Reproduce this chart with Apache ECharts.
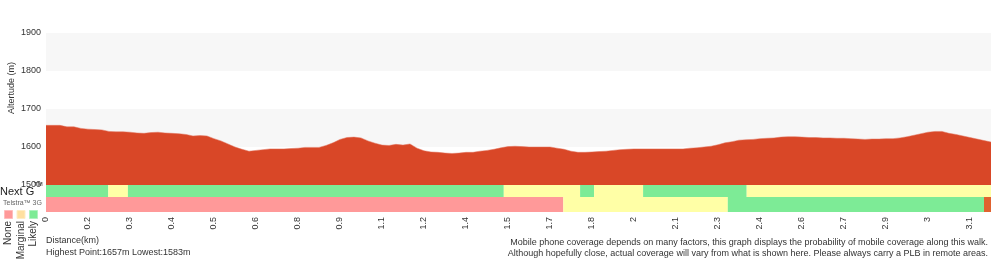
<!DOCTYPE html>
<html>
<head>
<meta charset="utf-8">
<script src="https://cdn.jsdelivr.net/npm/echarts@6/dist/echarts.min.js"></script>
<style>
html,body{margin:0;padding:0;background:#fff;}
#chart{width:1000px;height:260px;}
</style>
</head>
<body>
<div id="chart"></div>
<script>
// Elevation (m) at evenly spaced sample points along the walk
const elevation = [
1657,1657,1657,1653,1653,1649,1647,1646,1645,1641,
1640,1640,1639,1637,1636,1638,1639,1637,1636,1635,
1633,1629,1630,1629,1622,1616,1608,1600,1594,1589,
1591,1593,1595,1595,1595,1596,1597,1599,1599,1599,
1604,1611,1620,1625,1626,1624,1616,1610,1605,1604,
1607,1605,1608,1597,1590,1587,1586,1584,1583,1584,
1586,1586,1589,1591,1594,1598,1601,1602,1601,1600,
1600,1600,1600,1597,1594,1589,1586,1586,1587,1588,
1589,1591,1593,1594,1595,1595,1595,1595,1595,1595,
1595,1595,1597,1598,1600,1602,1606,1611,1614,1618,
1619,1620,1622,1623,1624,1626,1627,1627,1626,1625,
1625,1624,1624,1623,1623,1622,1621,1620,1621,1621,
1622,1622,1624,1627,1631,1635,1639,1641,1641,1636,
1633,1629,1625,1621,1617,1613
];
// Distance tick labels (km), one every 6 samples
const distLabels = ['0','0.2','0.3','0.4','0.5','0.6','0.8','0.9','1.1','1.2','1.4','1.5','1.7','1.8','2','2.1','2.3','2.4','2.6','2.7','2.9','3','3.1'];
const yTicks = [1500,1600,1700,1800,1900];
// Coverage segments: [startSample, endSample, level] level 0=None 1=Marginal 2=Likely 3=No data
const nextG = [[0,8.9,2],[8.9,11.7,1],[11.7,65.4,2],[65.4,76.3,1],[76.3,78.3,2],[78.3,85.3,1],[85.3,100.1,2],[100.1,135,1]];
const telstra3G = [[0,73.9,0],[73.9,97.4,1],[97.4,134,2],[134,135,3]];
const legendNames = ['None','Marginal','Likely'];

const FONT = "'Liberation Sans', Arial, Helvetica, sans-serif";
const levelColors = ['#ff9999','#ffffa6','#7deb96','#e0622f'];
const legendColors = ['#ff9999','#ffe0a0','#7deb96'];
const legendBorders = ['#ffbcbc','#ffecc4','#aef2bf'];
const lastIdx = elevation.length - 1;

function coverageSeries(data, yTop, yBottom) {
  return {
    type: 'custom', xAxisIndex: 1, yAxisIndex: 1,
    data: data,
    encode: {x: [0, 1]},
    renderItem: function (params, api) {
      const p0 = api.coord([api.value(0), yTop]);
      const p1 = api.coord([api.value(1), yBottom]);
      return {
        type: 'rect',
        shape: {x: p0[0], y: p0[1], width: p1[0] - p0[0], height: p1[1] - p0[1]},
        style: {fill: levelColors[api.value(2)]}
      };
    }
  };
}

const graphics = [
  {type:'text', x:12, y:88, rotation:Math.PI/2, style:{text:'Altertude (m)', font:'9px '+FONT, fill:'#333', align:'center', verticalAlign:'middle'}},
  {type:'text', x:0, y:192, style:{text:'Next G', font:'11px '+FONT, fill:'#222', align:'left', verticalAlign:'middle'}},
  {type:'text', x:34, y:184.5, style:{text:'TM', font:'6px '+FONT, fill:'#222', align:'left', verticalAlign:'middle'}},
  {type:'text', x:3, y:203.5, style:{text:'Telstra\u2122 3G', font:'7px '+FONT, fill:'#666', align:'left', verticalAlign:'middle'}},
  {type:'text', x:46, y:241, style:{text:'Distance(km)', font:'9px '+FONT, fill:'#333', align:'left', verticalAlign:'middle'}},
  {type:'text', x:46, y:252.5, style:{text:'Highest Point:' + Math.max(...elevation) + 'm Lowest:' + Math.min(...elevation) + 'm', font:'9px '+FONT, fill:'#333', align:'left', verticalAlign:'middle'}},
  {type:'text', x:988, y:243, style:{text:'Mobile phone coverage depends on many factors, this graph displays the probability of mobile coverage along this walk.', font:'9px '+FONT, fill:'#333', align:'right', verticalAlign:'middle'}},
  {type:'text', x:988, y:254, style:{text:'Although hopefully close, actual coverage will vary from what is shown here. Please always carry a PLB in remote areas.', font:'9px '+FONT, fill:'#333', align:'right', verticalAlign:'middle'}}
];
legendNames.forEach(function (n, i) {
  const cx = 8.5 + i * 12.5;
  graphics.push({type:'rect', shape:{x:cx-4, y:210.5, width:8, height:8}, style:{fill:legendColors[i], stroke:legendBorders[i], lineWidth:1}});
  graphics.push({type:'text', x:cx, y:221, rotation:Math.PI/2, style:{text:n, font:'10px '+FONT, fill:'#333', align:'right', verticalAlign:'middle'}});
});

const chart = echarts.init(document.getElementById('chart'), null, {renderer:'canvas'});
chart.setOption({
  animation: false,
  backgroundColor: '#ffffff',
  textStyle: {fontFamily: FONT},
  grid: [
    {left:46, right:9, top:33, height:152},
    {left:46, right:9, top:185, height:27}
  ],
  xAxis: [
    {type:'value', gridIndex:0, min:0, max:lastIdx, show:false},
    {type:'value', gridIndex:1, min:0, max:lastIdx, interval:6,
     axisLine:{show:false}, axisTick:{show:false}, splitLine:{show:false},
     axisLabel:{rotate:90, margin:5, fontSize:9, color:'#333', fontFamily:FONT, showMaxLabel:false,
       formatter:function (v) { return (v % 6 === 0 && distLabels[v / 6] !== undefined) ? distLabels[v / 6] : ''; }}}
  ],
  yAxis: [
    {type:'value', gridIndex:0, min:yTicks[0], max:yTicks[yTicks.length-1], interval:100,
     axisLine:{show:false}, axisTick:{show:false}, splitLine:{show:false},
     splitArea:{show:true, areaStyle:{color:['#ffffff','#f7f7f7']}},
     axisLabel:{fontSize:9, color:'#333', margin:5, fontFamily:FONT, formatter:function (v) { return String(v); }}},
    {type:'value', gridIndex:1, min:0, max:27, show:false}
  ],
  graphic: graphics,
  series: [
    {type:'line', xAxisIndex:0, yAxisIndex:0, data: elevation.map(function (e, i) { return [i, e]; }),
     showSymbol:false, lineStyle:{width:0.5, color:'#e0705a'}, areaStyle:{color:'#d94727', opacity:1, origin:'start'}},
    coverageSeries(nextG, 27, 15),
    coverageSeries(telstra3G, 15, 0)
  ]
});
</script>
</body>
</html>
